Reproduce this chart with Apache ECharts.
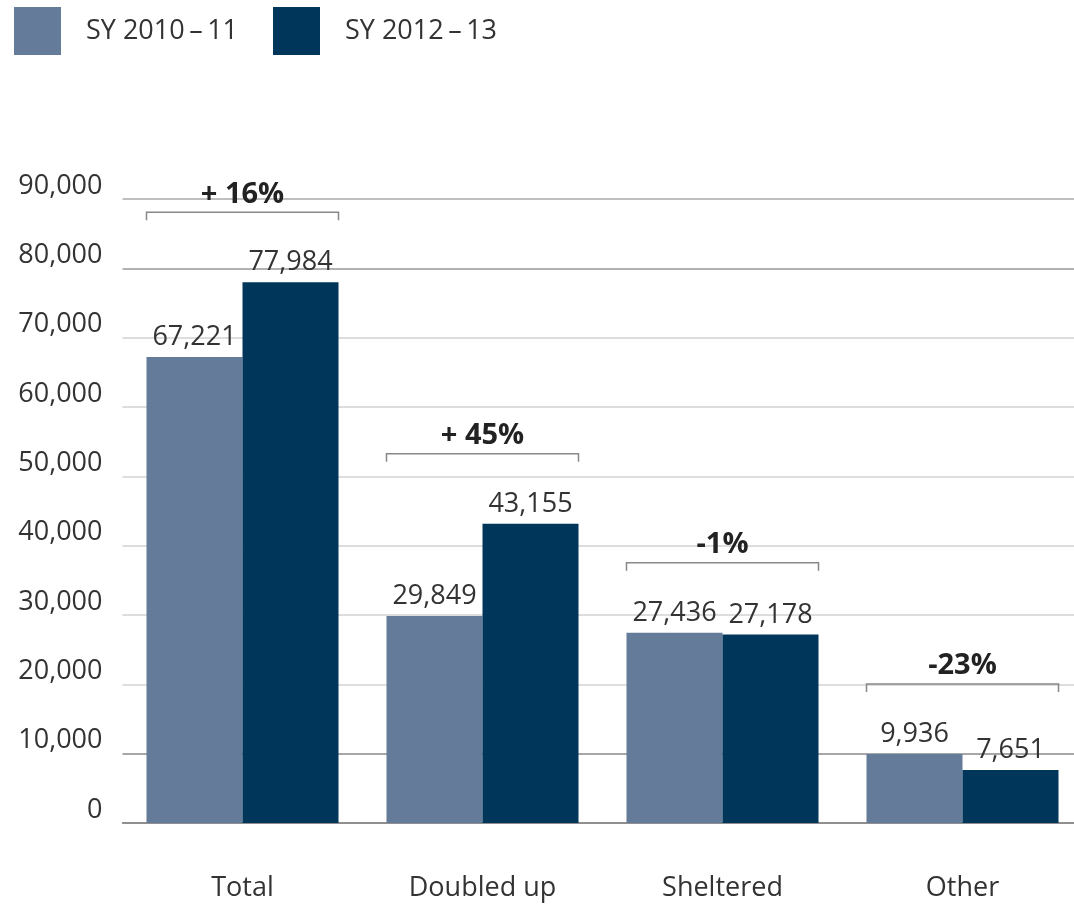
<!DOCTYPE html>
<html>
<head>
<meta charset="utf-8">
<script src="https://cdn.jsdelivr.net/npm/echarts@6/dist/echarts.min.js"></script>
<style>
html,body{margin:0;padding:0;background:#fff;}
#chart{width:1074px;height:904px;}
</style>
</head>
<body>
<div id="chart"></div>
<script>
const categories = ['Total', 'Doubled up', 'Sheltered', 'Other'];
const seriesNames = ['SY 2010\u2009\u2013\u200911', 'SY 2012\u2009\u2013\u200913'];
const values2010 = [67221, 29849, 27436, 9936];
const values2012 = [77984, 43155, 27178, 7651];
const changeLabels = ['+ 16%', '+ 45%', '-1%', '-23%'];
const yTicks = [0, 10000, 20000, 30000, 40000, 50000, 60000, 70000, 80000, 90000];

const FONT = '"Open Sans", "Noto Sans", sans-serif';
const C_LIGHT = '#647b99';
const C_DARK = '#00365a';
const fmt = v => Number(v).toLocaleString('en-US');

const bracketData = categories.map((c, i) => [i, Math.max(values2010[i], values2012[i])]);

const chart = echarts.init(document.getElementById('chart'), null, {renderer: 'canvas'});
chart.setOption({
  animation: false,
  backgroundColor: '#fff',
  textStyle: {fontFamily: FONT},
  legend: [
    {
      left: 14, top: 7, padding: 0, itemWidth: 47, itemHeight: 48, icon: 'rect',
      data: [seriesNames[0]],
      textStyle: {fontSize: 27, color: '#333', fontFamily: FONT, padding: [0, 0, 0, 20]}
    },
    {
      left: 273, top: 7, padding: 0, itemWidth: 47, itemHeight: 48, icon: 'rect',
      data: [seriesNames[1]],
      textStyle: {fontSize: 27, color: '#333', fontFamily: FONT, padding: [0, 0, 0, 20]}
    }
  ],
  grid: {left: 122.5, width: 960, top: 199, bottom: 81, containLabel: false, outerBoundsMode: 'none'},
  xAxis: {
    type: 'category',
    data: categories,
    axisTick: {show: false},
    axisLine: {show: true, lineStyle: {color: '#888', width: 1.5}},
    axisLabel: {fontSize: 27, color: '#333', fontFamily: FONT, margin: 50, lineHeight: 30}
  },
  yAxis: {
    type: 'value',
    min: yTicks[0],
    max: yTicks[yTicks.length - 1],
    interval: yTicks[1] - yTicks[0],
    axisLine: {show: false},
    axisTick: {show: false},
    axisLabel: {
      fontSize: 27, color: '#333', fontFamily: FONT, margin: 20,
      verticalAlign: 'bottom', lineHeight: 26,
      formatter: v => fmt(v)
    },
    splitLine: {
      show: true,
      lineStyle: {
        width: 1.5,
        color: ['#888', '#8a8a8a', '#d2d2d2', '#d2d2d2', '#d2d2d2', '#d2d2d2', '#d2d2d2', '#d2d2d2', '#999', '#aaa']
      }
    }
  },
  series: [
    {
      name: seriesNames[0],
      type: 'bar',
      data: values2010,
      barGap: '0%',
      barCategoryGap: '20%',
      itemStyle: {color: C_LIGHT},
      label: {
        show: true, position: 'top', distance: 6,
        fontSize: 27, color: '#333', fontFamily: FONT,
        formatter: p => fmt(p.value)
      },
      z: 3
    },
    {
      name: seriesNames[1],
      type: 'bar',
      data: values2012,
      barGap: '0%',
      barCategoryGap: '20%',
      itemStyle: {color: C_DARK},
      label: {
        show: true, position: 'top', distance: 6,
        fontSize: 27, color: '#333', fontFamily: FONT,
        formatter: p => fmt(p.value)
      },
      z: 3
    },
    {
      type: 'custom',
      name: 'brackets',
      silent: true,
      clip: false,
      z: 10,
      data: bracketData,
      renderItem: function (params, api) {
        const pt = api.coord([api.value(0), api.value(1)]);
        const bandW = api.size([1, 0])[0];
        const half = bandW * 0.4;
        const y = pt[1] - 70;
        const x0 = pt[0] - half, x1 = pt[0] + half;
        return {
          type: 'group',
          children: [
            {
              type: 'polyline',
              shape: {points: [[x0, y + 8], [x0, y], [x1, y], [x1, y + 8]]},
              style: {stroke: '#888', lineWidth: 1.5, fill: null}
            },
            {
              type: 'text',
              style: {
                x: pt[0], y: y - 18,
                text: changeLabels[params.dataIndex],
                fill: '#222',
                font: 'bold 29px ' + FONT,
                align: 'center', verticalAlign: 'middle'
              }
            }
          ]
        };
      }
    }
  ]
});
</script>
</body>
</html>
